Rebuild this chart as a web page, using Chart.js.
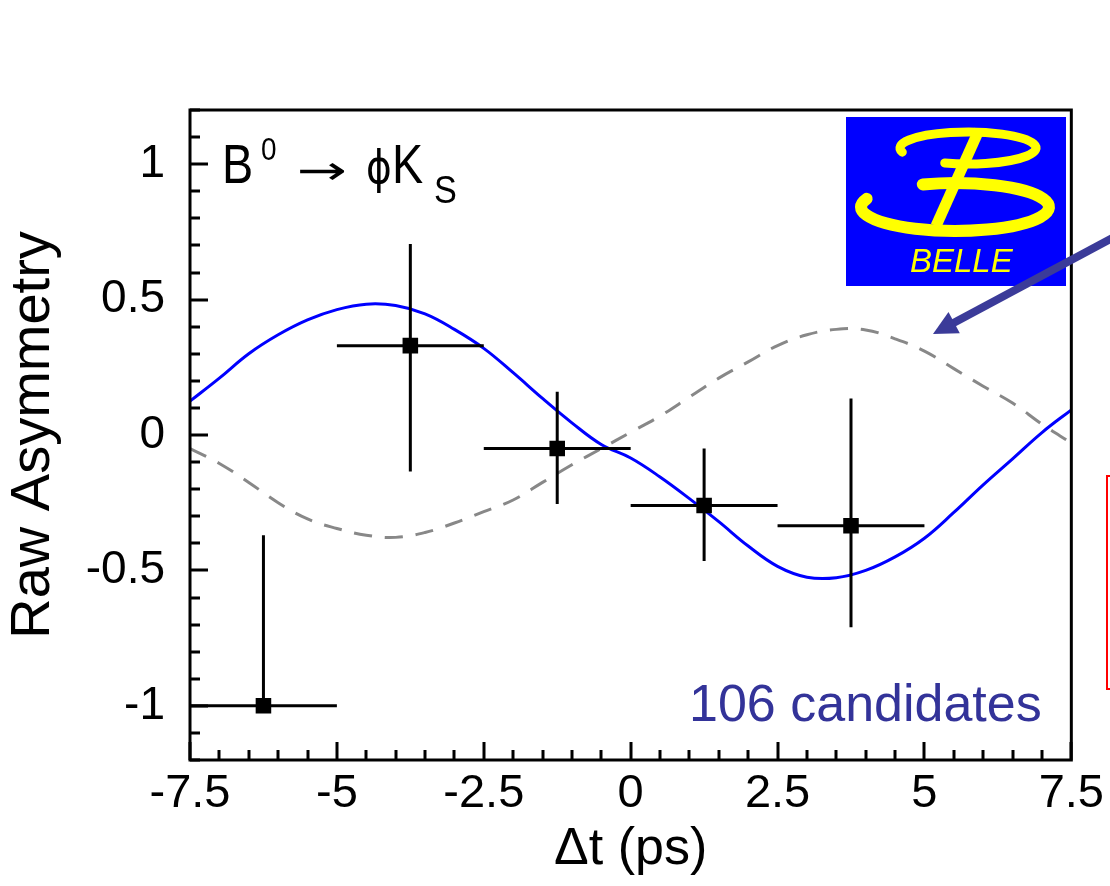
<!DOCTYPE html>
<html>
<head>
<meta charset="utf-8">
<script src="https://cdn.jsdelivr.net/npm/chart.js@4/dist/chart.umd.min.js"></script>
<style>
  html, body { margin: 0; padding: 0; background: #fff; }
  canvas { display: block; }
</style>
</head>
<body>
<canvas id="asym" width="1110" height="886"></canvas>
<script>
// binned data: centre of the dt bin, asymmetry, upper / lower error
const binCenters = [-6.25, -3.75, -1.25, 1.25, 3.75];
const binHalfWidth = [1.25, 1.25, 1.25, 1.25, 1.25];
const asymValues = [-1.0, 0.33, -0.05, -0.26, -0.335];
const errUp = [0.63, 0.375, 0.21, 0.21, 0.47];
const errDown = [0.0, 0.465, 0.205, 0.205, 0.375];

// fit result (blue) and the SM expectation (grey dashed)
const curveX = [-7.5, -7, -6.5, -6, -5.5, -5, -4.5, -4, -3.5, -3, -2.5, -2, -1.5, -1, -0.5,
  0, 0.5, 1, 1.5, 2, 2.5, 3, 3.5, 4, 4.5, 5, 5.5, 6, 6.5, 7, 7.5];
const fitY = [0.125, 0.21, 0.30, 0.37, 0.425, 0.463, 0.483, 0.478, 0.447, 0.39, 0.32, 0.23, 0.135, 0.045, -0.035,
  -0.085, -0.155, -0.235, -0.32, -0.41, -0.485, -0.525, -0.527, -0.50, -0.45, -0.381, -0.286, -0.184, -0.088, 0.009, 0.093];
const smY = [-0.05, -0.105, -0.175, -0.25, -0.31, -0.345, -0.37, -0.378, -0.36, -0.325, -0.283, -0.24, -0.175, -0.11, -0.05,
  0.01, 0.07, 0.14, 0.21, 0.27, 0.33, 0.37, 0.39, 0.388, 0.355, 0.31, 0.245, 0.18, 0.118, 0.04, -0.03];

const xTicks = [-7.5, -5, -2.5, 0, 2.5, 5, 7.5];
const yTicks = [-1, -0.5, 0, 0.5, 1];

const FONT = "'Liberation Sans', Arial, Helvetica, sans-serif";

function drawText(ctx, str, x, y, font, sx, color) {
  ctx.save();
  ctx.font = font;
  ctx.fillStyle = color || '#000';
  ctx.textBaseline = 'alphabetic';
  ctx.textAlign = 'left';
  ctx.translate(x, y);
  ctx.scale(sx, 1);
  ctx.fillText(str, 0, 0);
  ctx.restore();
}

function drawErrorBars(chart) {
  const ctx = chart.ctx;
  const xs = chart.scales.x, ys = chart.scales.y;
  ctx.save();
  ctx.strokeStyle = '#000';
  ctx.lineWidth = 3;
  binCenters.forEach((c, i) => {
    const py = ys.getPixelForValue(asymValues[i]);
    const px = xs.getPixelForValue(c);
    ctx.beginPath();
    ctx.moveTo(xs.getPixelForValue(c - binHalfWidth[i]), py);
    ctx.lineTo(xs.getPixelForValue(c + binHalfWidth[i]), py);
    ctx.moveTo(px, ys.getPixelForValue(asymValues[i] + errUp[i]));
    ctx.lineTo(px, ys.getPixelForValue(asymValues[i] - errDown[i]));
    ctx.stroke();
  });
  ctx.restore();
}

function drawFrameAndTicks(chart) {
  const ctx = chart.ctx;
  const a = chart.chartArea;
  const xs = chart.scales.x, ys = chart.scales.y;
  ctx.save();
  ctx.strokeStyle = '#000';
  ctx.lineWidth = 3;
  ctx.strokeRect(a.left, a.top, a.right - a.left, a.bottom - a.top);
  ctx.beginPath();
  for (let i = -12; i <= 12; i++) {
    const py = Math.round(ys.getPixelForValue(i / 10));
    const len = i % 5 === 0 ? 18 : 10;
    ctx.moveTo(a.left, py);
    ctx.lineTo(a.left + len, py);
  }
  for (let i = -15; i <= 15; i++) {
    const px = Math.round(xs.getPixelForValue(i / 2));
    const len = i % 5 === 0 ? 18 : 10;
    ctx.moveTo(px, a.bottom);
    ctx.lineTo(px, a.bottom - len);
  }
  ctx.stroke();
  ctx.restore();
}

function drawLogo(ctx) {
  ctx.save();
  ctx.fillStyle = '#0000ff';
  ctx.fillRect(846, 117, 220, 169);
  ctx.strokeStyle = '#ffff00';
  ctx.lineCap = 'round';
  const deg = Math.PI / 180;
  // upper loop
  ctx.lineWidth = 9;
  ctx.beginPath();
  ctx.ellipse(968, 148, 68, 16, 0, 165 * deg, 470 * deg);
  ctx.stroke();
  // lower loop
  ctx.lineWidth = 12;
  ctx.beginPath();
  ctx.ellipse(955, 207, 94, 24, 0, 250 * deg, 560 * deg);
  ctx.stroke();
  // stem
  ctx.lineWidth = 11;
  ctx.lineCap = 'butt';
  ctx.beginPath();
  ctx.moveTo(979, 130);
  ctx.lineTo(936, 226);
  ctx.stroke();
  ctx.restore();
  drawText(ctx, 'BELLE', 910, 272, 'italic 33px ' + FONT, 1, '#ffff00');
}

function drawPointer(ctx) {
  const x0 = 1116, y0 = 236, x1 = 933, y1 = 334;
  const dx = x1 - x0, dy = y1 - y0;
  const len = Math.hypot(dx, dy);
  const ux = dx / len, uy = dy / len;
  const head = 24, half = 12;
  const bx = x1 - ux * head, by = y1 - uy * head;
  ctx.save();
  ctx.strokeStyle = '#3b3b99';
  ctx.fillStyle = '#3b3b99';
  ctx.lineWidth = 8;
  ctx.beginPath();
  ctx.moveTo(x0, y0);
  ctx.lineTo(bx + ux * 4, by + uy * 4);
  ctx.stroke();
  ctx.beginPath();
  ctx.moveTo(x1, y1);
  ctx.lineTo(bx - uy * half, by + ux * half);
  ctx.lineTo(bx + uy * half, by - ux * half);
  ctx.closePath();
  ctx.fill();
  ctx.restore();
}

const decorPlugin = {
  id: 'decor',
  afterDatasetDraw(chart, args) {
    if (args.index === 1) drawErrorBars(chart);
  },
  afterDraw(chart) {
    const ctx = chart.ctx;
    drawFrameAndTicks(chart);

    // decay label
    drawText(ctx, 'B', 222, 183, '55px ' + FONT, 0.85);
    drawText(ctx, '0', 261, 160, '31px ' + FONT, 0.9);
    drawText(ctx, '\u2192', 297, 184, "40px 'DejaVu Sans', sans-serif", 1.5);
    drawText(ctx, '\u03D5', 366, 183, "46px 'DejaVu Sans', sans-serif", 0.85);
    drawText(ctx, 'K', 392, 183, '55px ' + FONT, 0.85);
    drawText(ctx, 'S', 434, 203, '38px ' + FONT, 0.9);

    drawText(ctx, '106 candidates', 689, 721, '52px ' + FONT, 1, '#333399');

    drawLogo(ctx);
    drawPointer(ctx);

    ctx.save();
    ctx.strokeStyle = '#ff0000';
    ctx.lineWidth = 2;
    ctx.strokeRect(1107, 476, 40, 213);
    ctx.restore();
  }
};

Chart.defaults.font.family = FONT;
Chart.defaults.color = '#000';

new Chart(document.getElementById('asym'), {
  type: 'scatter',
  data: {
    datasets: [
      {
        label: 'data',
        data: binCenters.map((c, i) => ({ x: c, y: asymValues[i] })),
        pointStyle: 'rect',
        pointRadius: 11,
        backgroundColor: '#000',
        borderWidth: 0
      },
      {
        type: 'line',
        label: 'fit',
        data: curveX.map((x, i) => ({ x: x, y: fitY[i] })),
        borderColor: '#0000ff',
        borderWidth: 3,
        pointRadius: 0,
        tension: 0.4,
        fill: false
      },
      {
        type: 'line',
        label: 'SM',
        data: curveX.map((x, i) => ({ x: x, y: smY[i] })),
        borderColor: '#888888',
        borderWidth: 3,
        borderDash: [18, 13],
        pointRadius: 0,
        tension: 0.4,
        fill: false
      }
    ]
  },
  options: {
    responsive: false,
    animation: false,
    layout: { padding: { top: 110, right: 35, left: 0, bottom: 0 } },
    plugins: {
      legend: { display: false },
      tooltip: { enabled: false }
    },
    scales: {
      x: {
        type: 'linear',
        min: -7.5,
        max: 7.5,
        afterFit: s => { s.height = 126; },
        afterBuildTicks: s => { s.ticks = xTicks.map(v => ({ value: v })); },
        grid: { display: false, drawTicks: false },
        border: { display: false },
        ticks: {
          autoSkip: false,
          maxRotation: 0,
          padding: 6,
          font: { size: 47 },
          callback: v => String(v)
        },
        title: {
          display: true,
          text: '\u0394t (ps)',
          font: { size: 52 },
          padding: { top: 0, bottom: 5 }
        }
      },
      y: {
        type: 'linear',
        min: -1.2,
        max: 1.2,
        afterFit: s => { s.width = 190; },
        afterBuildTicks: s => { s.ticks = yTicks.map(v => ({ value: v })); },
        grid: { display: false, drawTicks: false },
        border: { display: false },
        ticks: {
          padding: 25,
          font: { size: 46 },
          callback: v => String(v)
        },
        title: {
          display: true,
          text: 'Raw Asymmetry',
          font: { size: 56 },
          padding: { top: 0, bottom: 0 }
        }
      }
    }
  },
  plugins: [decorPlugin]
});
</script>
</body>
</html>
